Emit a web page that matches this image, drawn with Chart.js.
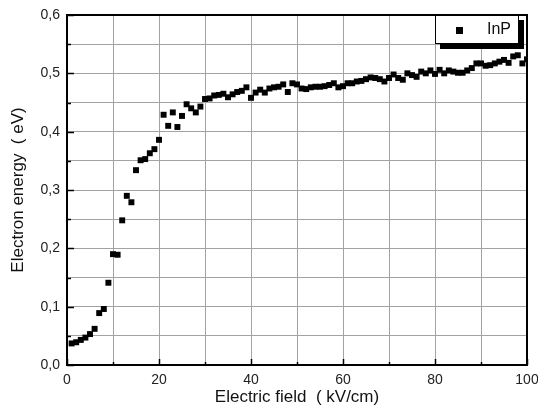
<!DOCTYPE html>
<html>
<head>
<meta charset="utf-8">
<script src="https://cdn.jsdelivr.net/npm/chart.js@4/dist/chart.umd.min.js"></script>
<style>
  html, body { margin: 0; padding: 0; background: #fff; }
  #wrap { width: 538px; height: 412px; }
</style>
</head>
<body>
<div id="wrap"><canvas id="energyChart" width="538" height="412"></canvas></div>
<script>
// ---------------------- data ----------------------
const seriesName = "InP";

const fieldKv = [
  1, 2, 3, 4, 5, 6, 7, 8, 9, 10,
  11, 12, 13, 14, 15, 16, 17, 18, 19, 20,
  21, 22, 23, 24, 25, 26, 27, 28, 29, 30,
  31, 32, 33, 34, 35, 36, 37, 38, 39, 40,
  41, 42, 43, 44, 45, 46, 47, 48, 49, 50,
  51, 52, 53, 54, 55, 56, 57, 58, 59, 60,
  61, 62, 63, 64, 65, 66, 67, 68, 69, 70,
  71, 72, 73, 74, 75, 76, 77, 78, 79, 80,
  81, 82, 83, 84, 85, 86, 87, 88, 89, 90,
  91, 92, 93, 94, 95, 96, 97, 98, 99, 100
];

const energyEv = [
  0.037, 0.039, 0.043, 0.047, 0.053, 0.062, 0.089, 0.096, 0.141, 0.190,
  0.189, 0.248, 0.290, 0.279, 0.334, 0.351, 0.353, 0.363, 0.370, 0.386,
  0.429, 0.410, 0.433, 0.408, 0.427, 0.447, 0.440, 0.433, 0.443, 0.456,
  0.457, 0.462, 0.463, 0.465, 0.459, 0.464, 0.468, 0.470, 0.476, 0.458,
  0.467, 0.472, 0.467, 0.474, 0.476, 0.477, 0.481, 0.468, 0.483, 0.481,
  0.474, 0.473, 0.476, 0.477, 0.477, 0.478, 0.480, 0.483, 0.476, 0.478,
  0.483, 0.483, 0.486, 0.487, 0.490, 0.493, 0.492, 0.490, 0.486, 0.492,
  0.498, 0.492, 0.489, 0.500, 0.497, 0.494, 0.503, 0.500, 0.505, 0.499,
  0.506, 0.500, 0.505, 0.503, 0.501, 0.501, 0.505, 0.509, 0.517, 0.517,
  0.513, 0.514, 0.517, 0.520, 0.523, 0.518, 0.529, 0.531, 0.517, 0.524
];

const xTickLabels = [0, 20, 40, 60, 80, 100];
const yTickLabels = ["0,0", "0,1", "0,2", "0,3", "0,4", "0,5", "0,6"];

const FONT = "'Liberation Sans', Arial, sans-serif";

// ---------------------- plugins: frame, inward ticks, legend box ----------------------
const framePlugin = {
  id: "frame",
  afterDatasetsDraw(chart) {
    const { ctx, chartArea: a, scales: { x, y } } = chart;
    ctx.save();
    ctx.strokeStyle = "#000";

    // inward tick marks on bottom and left axes
    ctx.lineWidth = 1.5;
    x.ticks.forEach(t => {
      const px = Math.round(x.getPixelForValue(t.value)) + 0.5;
      const len = t.value % 20 === 0 ? 6 : 3;
      ctx.beginPath();
      ctx.moveTo(px, a.bottom);
      ctx.lineTo(px, a.bottom - len);
      ctx.stroke();
    });
    y.ticks.forEach(t => {
      const py = Math.round(y.getPixelForValue(t.value)) + 0.5;
      const len = Math.round(t.value * 100) % 10 === 0 ? 7 : 4;
      ctx.beginPath();
      ctx.moveTo(a.left, py);
      ctx.lineTo(a.left + len, py);
      ctx.stroke();
    });

    // plot frame
    ctx.lineWidth = 2;
    ctx.strokeRect(a.left, a.top, a.right - a.left, a.bottom - a.top);
    ctx.restore();
  },
  afterDraw(chart) {
    const { ctx, chartArea: a } = chart;
    const ds = chart.data.datasets[0];
    const w = 84, h = 29, sh = 5;
    const bx = a.right - w - 8, by = a.top;

    ctx.save();
    // shadow
    ctx.fillStyle = "#000";
    ctx.fillRect(bx + sh, by + sh, w, h);
    // box
    ctx.fillStyle = "#fff";
    ctx.fillRect(bx, by, w, h);
    ctx.strokeStyle = "#000";
    ctx.lineWidth = 1;
    ctx.strokeRect(bx + 0.5, by + 0.5, w - 1, h - 1);

    // marker + label
    ctx.fillStyle = "#000";
    ctx.fillRect(bx + 21, by + 12, 7, 7);
    ctx.font = "16px " + FONT;
    ctx.textBaseline = "middle";
    ctx.textAlign = "left";
    ctx.fillStyle = "#111";
    ctx.fillText(ds.label, bx + 52, by + 15);
    ctx.restore();
  }
};

// ---------------------- chart ----------------------
const points = fieldKv.map((f, i) => ({ x: f, y: energyEv[i] }));

new Chart(document.getElementById("energyChart").getContext("2d"), {
  type: "scatter",
  data: {
    datasets: [{
      label: seriesName,
      data: points,
      pointStyle: "rect",
      pointRadius: 4.2,
      pointHoverRadius: 4.2,
      backgroundColor: "#000",
      borderWidth: 0
    }]
  },
  options: {
    responsive: false,
    animation: false,
    events: [],
    layout: { padding: { top: 15, right: 11, left: 0, bottom: 0 } },
    plugins: {
      legend: { display: false },
      tooltip: { enabled: false }
    },
    scales: {
      x: {
        type: "linear",
        min: 0,
        max: 100,
        afterFit(scale) {
          scale.height = 47;
          scale.paddingLeft = 0;
          scale.paddingRight = 0;
        },
        border: { display: false },
        grid: { color: "#a3a3a3", lineWidth: 1, drawTicks: false },
        ticks: {
          stepSize: 10,
          autoSkip: false,
          maxRotation: 0,
          padding: 7,
          color: "#222",
          font: { family: FONT, size: 14 },
          callback: v => xTickLabels.includes(v) ? String(v) : ""
        },
        title: {
          display: true,
          text: "Electric field  ( kV/cm)",
          color: "#111",
          font: { family: FONT, size: 17 },
          padding: { top: 0, bottom: 4 }
        }
      },
      y: {
        type: "linear",
        min: 0,
        max: 0.6,
        afterFit(scale) {
          scale.width = 67;
          scale.paddingTop = 0;
          scale.paddingBottom = 0;
        },
        border: { display: false },
        grid: { color: "#a3a3a3", lineWidth: 1, drawTicks: false },
        ticks: {
          stepSize: 0.05,
          autoSkip: false,
          padding: 7,
          color: "#222",
          font: { family: FONT, size: 14 },
          callback: v => {
            const k = Math.round(v * 100);
            return k % 10 === 0 ? yTickLabels[k / 10] : "";
          }
        },
        title: {
          display: true,
          text: "Electron energy  ( eV)",
          color: "#111",
          font: { family: FONT, size: 17 },
          padding: { top: 8, bottom: 0 }
        }
      }
    }
  },
  plugins: [framePlugin]
});
</script>
</body>
</html>
